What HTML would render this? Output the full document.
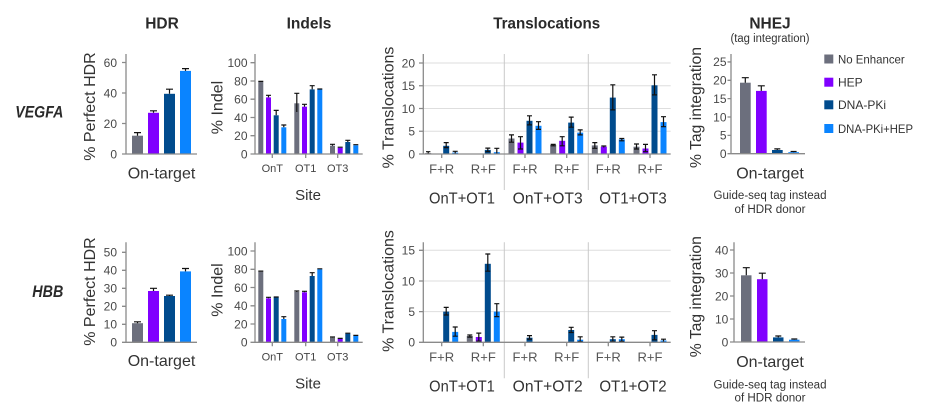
<!DOCTYPE html>
<html><head><meta charset="utf-8">
<style>
html,body{margin:0;padding:0;background:#fff;}
svg{display:block;}
text{font-family:"Liberation Sans",Arial,sans-serif;}
.t{font-size:12px;fill:#484848;text-anchor:end;}
.ax{stroke:#8a8a8a;stroke-width:1.3;fill:none;}
.gr{stroke:#dedede;stroke-width:1;}
.sep{stroke:#c9c9c9;stroke-width:1;}
.e{stroke:#111;stroke-width:1.2;fill:none;}
.G{fill:#6c6f7d}.P{fill:#8000ff}.D{fill:#004b8d}.L{fill:#0a84ff}
.ttl{font-size:15.5px;font-weight:bold;fill:#2a2a2a;text-anchor:middle;}
.yl{font-size:16px;fill:#333;text-anchor:middle;}
.xl{font-size:16px;fill:#333;text-anchor:middle;}
.xt{font-size:11px;fill:#444;text-anchor:middle;}
.ft{font-size:12.5px;fill:#555;text-anchor:middle;}
.gl{font-size:15.5px;fill:#333;text-anchor:middle;}
.sm{font-size:11.5px;fill:#333;text-anchor:middle;}
.lg{font-size:12px;fill:#333;}
</style></head><body>
<svg width="930" height="410" viewBox="0 0 930 410" xmlns="http://www.w3.org/2000/svg">

<!-- Titles -->
<text class="ttl" x="162" y="28.3">HDR</text>
<text class="ttl" x="309" y="28.3">Indels</text>
<text class="ttl" x="546.7" y="28.3" textLength="107" lengthAdjust="spacingAndGlyphs">Translocations</text>
<text class="ttl" x="770" y="28.3">NHEJ</text>
<text class="sm" x="770" y="42" textLength="79" lengthAdjust="spacingAndGlyphs">(tag integration)</text>

<!-- Row labels -->
<text x="15.3" y="117.5" font-size="17" font-weight="bold" font-style="italic" fill="#2a2a2a" textLength="48" lengthAdjust="spacingAndGlyphs">VEGFA</text>
<text x="32.3" y="297" font-size="17" font-weight="bold" font-style="italic" fill="#2a2a2a" textLength="31" lengthAdjust="spacingAndGlyphs">HBB</text>

<!-- ================= TOP HDR ================= -->
<rect class="G" x="132" y="135.7" width="11" height="18.3"/>
<rect class="P" x="148" y="112.8" width="11" height="41.2"/>
<rect class="D" x="164" y="93.8" width="11" height="60.2"/>
<rect class="L" x="180" y="70.9" width="11" height="83.1"/>
<path class="e" d="M137.5 135.7V132.6M134 132.6H141M153.5 112.8V110.8M150 110.8H157M169.5 93.8V89.2M166 89.2H173M185.5 70.9V68.6M182 68.6H189"/>
<path class="ax" d="M126 54V154H197M122 154H126M122 123.5H126M122 93H126M122 62.5H126"/>
<text class="t" x="117" y="158.3">0</text>
<text class="t" x="117" y="127.8">20</text>
<text class="t" x="117" y="97.3">40</text>
<text class="t" x="117" y="66.8">60</text>
<text class="yl" transform="translate(95,106.5) rotate(-90)">% Perfect HDR</text>
<text class="xl" x="161.5" y="178.5">On-target</text>

<!-- ================= BOTTOM HDR ================= -->
<rect class="G" x="132" y="323.2" width="11" height="19.1"/>
<rect class="P" x="148" y="291" width="11" height="51.3"/>
<rect class="D" x="164" y="296" width="11" height="46.3"/>
<rect class="L" x="180" y="271.4" width="11" height="70.9"/>
<path class="e" d="M137.5 323.2V321.8M134 321.8H141M153.5 291V288.3M150 288.3H157M169.5 296V295.2M166 295.2H173M185.5 271.4V268.5M182 268.5H189"/>
<path class="ax" d="M126 242.3V342.3H197M122 342.3H126M122 324.3H126M122 306.3H126M122 288.3H126M122 270.3H126M122 252.3H126"/>
<text class="t" x="117" y="346.6">0</text>
<text class="t" x="117" y="328.6">10</text>
<text class="t" x="117" y="310.6">20</text>
<text class="t" x="117" y="292.6">30</text>
<text class="t" x="117" y="274.6">40</text>
<text class="t" x="117" y="256.6">50</text>
<text class="yl" transform="translate(95,291.5) rotate(-90)">% Perfect HDR</text>
<text class="xl" x="161.5" y="366">On-target</text>

<!-- ================= TOP INDELS ================= -->
<rect class="G" x="258.3" y="82" width="5" height="72"/>
<rect class="P" x="266" y="97.4" width="5" height="56.6"/>
<rect class="D" x="273.7" y="115.3" width="5" height="38.7"/>
<rect class="L" x="281.3" y="127.3" width="5" height="26.7"/>
<rect class="G" x="294.3" y="103.3" width="5" height="50.7"/>
<rect class="P" x="302" y="106.7" width="5" height="47.3"/>
<rect class="D" x="309.7" y="89.4" width="5" height="64.6"/>
<rect class="L" x="317.3" y="89.4" width="5" height="64.6"/>
<rect class="G" x="330" y="145.7" width="5" height="8.3"/>
<rect class="P" x="337.7" y="147.7" width="5" height="6.3"/>
<rect class="D" x="345.3" y="142" width="5" height="12"/>
<rect class="L" x="353.3" y="145.3" width="5" height="8.7"/>
<path class="e" d="M260.8 82V81.4M258.3 81.4H263.3M268.5 97.4V95.3M266 95.3H271M276.2 115.3V110.4M273.7 110.4H278.7M283.8 127.3V125M281.3 125H286.3M296.8 112V93.3M294.3 93.3H299.3M304.5 106.7V104.3M302 104.3H307M312.2 89.4V85.7M309.7 85.7H314.7M319.8 89.4V89M317.3 89H322.3M332.5 145.7V144.3M330 144.3H335M340.2 147.7V147.2M337.7 147.2H342.7M347.8 142V140.3M345.3 140.3H350.3M355.8 145.3V144.7M353.3 144.7H358.3"/>
<path class="ax" d="M255 54V154H362.7M250.5 154H255M250.5 135.7H255M250.5 117.5H255M250.5 99.2H255M250.5 81H255M250.5 62.7H255M272.3 154V158M305.7 154V158M337.7 154V158"/>
<text class="t" x="247.5" y="158.3">0</text>
<text class="t" x="247.5" y="140">20</text>
<text class="t" x="247.5" y="121.8">40</text>
<text class="t" x="247.5" y="103.5">60</text>
<text class="t" x="247.5" y="85.3">80</text>
<text class="t" x="247.5" y="67">100</text>
<text class="xt" x="272.3" y="172">OnT</text>
<text class="xt" x="305.7" y="172">OT1</text>
<text class="xt" x="337.7" y="172">OT3</text>
<text class="yl" transform="translate(222.5,107.5) rotate(-90)">% Indel</text>
<text x="308" y="200" font-size="15" fill="#333" text-anchor="middle">Site</text>

<!-- ================= BOTTOM INDELS ================= -->
<rect class="G" x="258.3" y="271.7" width="5" height="70.6"/>
<rect class="P" x="266" y="298.3" width="5" height="44"/>
<rect class="D" x="273.7" y="297.3" width="5" height="45"/>
<rect class="L" x="281.3" y="319" width="5" height="23.3"/>
<rect class="G" x="294.3" y="292" width="5" height="50.3"/>
<rect class="P" x="302" y="292.3" width="5" height="50"/>
<rect class="D" x="309.7" y="276" width="5" height="66.3"/>
<rect class="L" x="317.3" y="269.3" width="5" height="73"/>
<rect class="G" x="330" y="337.7" width="5" height="4.6"/>
<rect class="P" x="337.7" y="339" width="5" height="3.3"/>
<rect class="D" x="345.3" y="333.6" width="5" height="8.7"/>
<rect class="L" x="353.3" y="336" width="5" height="6.3"/>
<path class="e" d="M260.8 271.7V271.1M258.3 271.1H263.3M268.5 298.3V297.3M266 297.3H271M276.2 297.3V297M273.7 297H278.7M283.8 319V316.7M281.3 316.7H286.3M296.8 292V291M294.3 291H299.3M304.5 292.3V291.3M302 291.3H307M312.2 276V272.7M309.7 272.7H314.7M319.8 269.3V268.8M317.3 268.8H322.3M332.5 337.7V337M330 337H335M340.2 339V338.4M337.7 338.4H342.7M347.8 333.6V333.2M345.3 333.2H350.3M355.8 336V335.4M353.3 335.4H358.3"/>
<path class="ax" d="M255 242.3V342.3H362.7M250.5 342.3H255M250.5 324H255M250.5 305.8H255M250.5 287.5H255M250.5 269.3H255M250.5 251H255M272.3 342.3V346.3M305.7 342.3V346.3M337.7 342.3V346.3"/>
<text class="t" x="247.5" y="346.6">0</text>
<text class="t" x="247.5" y="328.3">20</text>
<text class="t" x="247.5" y="310.1">40</text>
<text class="t" x="247.5" y="291.8">60</text>
<text class="t" x="247.5" y="273.6">80</text>
<text class="t" x="247.5" y="255.3">100</text>
<text class="xt" x="272.3" y="360.3">OnT</text>
<text class="xt" x="305.7" y="360.3">OT1</text>
<text class="xt" x="337.7" y="360.3">OT3</text>
<text class="yl" transform="translate(222.5,290) rotate(-90)">% Indel</text>
<text x="308" y="388.3" font-size="15" fill="#333" text-anchor="middle">Site</text>

<!-- ================= TOP TRANSLOCATIONS ================= -->
<path class="gr" d="M423.3 131.25H670.7M423.3 108.5H670.7M423.3 85.75H670.7M423.3 63H670.7"/>
<path class="sep" d="M504.3 54V190M588.3 54V190"/>
<rect class="G" x="425.2" y="153.1" width="6" height="0.9"/>
<rect class="D" x="443.2" y="145.8" width="6" height="8.2"/>
<rect class="L" x="452.2" y="152.6" width="6" height="1.4"/>
<rect class="D" x="484.8" y="149.9" width="6" height="4.1"/>
<rect class="L" x="493.8" y="152.2" width="6" height="1.8"/>
<rect class="G" x="508.5" y="138.5" width="6" height="15.5"/>
<rect class="P" x="517.5" y="142.6" width="6" height="11.4"/>
<rect class="D" x="526.5" y="120.8" width="6" height="33.2"/>
<rect class="L" x="535.5" y="125.8" width="6" height="28.2"/>
<rect class="G" x="550.2" y="144.9" width="6" height="9.1"/>
<rect class="P" x="559.2" y="140.8" width="6" height="13.2"/>
<rect class="D" x="568.2" y="122.6" width="6" height="31.4"/>
<rect class="L" x="577.2" y="132.6" width="6" height="21.4"/>
<rect class="G" x="591.8" y="145.4" width="6" height="8.6"/>
<rect class="P" x="600.8" y="146.7" width="6" height="7.3"/>
<rect class="D" x="609.8" y="97.6" width="6" height="56.4"/>
<rect class="L" x="618.8" y="139.4" width="6" height="14.6"/>
<rect class="G" x="633.5" y="146.7" width="6" height="7.3"/>
<rect class="P" x="642.5" y="148.5" width="6" height="5.5"/>
<rect class="D" x="651.5" y="85.3" width="6" height="68.7"/>
<rect class="L" x="660.5" y="122.1" width="6" height="31.9"/>
<path class="e" d="
M428.2 154V151.7M426 151.7H430.4
M446.2 142.6V147.6M443.7 142.6H448.7M443.7 147.6H448.7
M455.2 151.3V154M452.7 151.3H457.7
M487.8 148.1V151.7M485.3 148.1H490.3M485.3 151.7H490.3
M496.8 148.3V154M494.3 148.3H499.3
M511.5 134.9V142.2M509 134.9H514M509 142.2H514
M520.5 136.7V149M518 136.7H523M518 149H523
M529.5 115.8V124.9M527 115.8H532M527 124.9H532
M538.5 121.7V129.4M536 121.7H541M536 129.4H541
M553.2 144.4V145.8M550.7 144.4H555.7M550.7 145.8H555.7
M562.2 136.7V145.8M559.7 136.7H564.7M559.7 145.8H564.7
M571.2 117.1V127.2M568.7 117.1H573.7M568.7 127.2H573.7
M580.2 129.9V134.9M577.7 129.9H582.7M577.7 134.9H582.7
M594.8 142.6V148.3M592.3 142.6H597.3M592.3 148.3H597.3
M603.8 146V147.5M601.3 146H606.3
M612.8 84.8V109.9M610.3 84.8H615.3M610.3 109.9H615.3
M621.8 138.5V140.8M619.3 138.5H624.3M619.3 140.8H624.3
M636.5 144V149M634 144H639M634 149H639
M645.5 144.4V151.7M643 144.4H648M643 151.7H648
M654.5 74.8V94.9M652 74.8H657M652 94.9H657
M663.5 116.7V126.7M661 116.7H666M661 126.7H666"/>
<path class="ax" d="M423.3 54V154H670.7M419 154H423.3M419 131.25H423.3M419 108.5H423.3M419 85.75H423.3M419 63H423.3M441.7 154V158M483.3 154V158M525 154V158M566.7 154V158M608.3 154V158M650 154V158"/>
<text class="t" x="415" y="158.3">0</text>
<text class="t" x="415" y="135.5">5</text>
<text class="t" x="415" y="112.8">10</text>
<text class="t" x="415" y="90">15</text>
<text class="t" x="415" y="67.3">20</text>
<text class="ft" x="441.7" y="173.3" textLength="25" lengthAdjust="spacingAndGlyphs">F+R</text>
<text class="ft" x="483.3" y="173.3" textLength="25" lengthAdjust="spacingAndGlyphs">R+F</text>
<text class="ft" x="525" y="173.3" textLength="25" lengthAdjust="spacingAndGlyphs">F+R</text>
<text class="ft" x="566.7" y="173.3" textLength="25" lengthAdjust="spacingAndGlyphs">R+F</text>
<text class="ft" x="608.3" y="173.3" textLength="25" lengthAdjust="spacingAndGlyphs">F+R</text>
<text class="ft" x="650" y="173.3" textLength="25" lengthAdjust="spacingAndGlyphs">R+F</text>
<text class="gl" x="462" y="203.3" textLength="66" lengthAdjust="spacingAndGlyphs">OnT+OT1</text>
<text class="gl" x="547.7" y="203.3" textLength="70" lengthAdjust="spacingAndGlyphs">OnT+OT3</text>
<text class="gl" x="633" y="203.3" textLength="67.4" lengthAdjust="spacingAndGlyphs">OT1+OT3</text>
<text class="yl" transform="translate(393.3,107.5) rotate(-90)" textLength="121.7" lengthAdjust="spacingAndGlyphs">% Translocations</text>

<!-- ================= BOTTOM TRANSLOCATIONS ================= -->
<path class="gr" d="M423.3 311.6H670.7M423.3 281H670.7M423.3 250.3H670.7"/>
<path class="sep" d="M504.3 242.3V378.3M588.3 242.3V378.3"/>
<rect class="D" x="443.2" y="311.6" width="6" height="30.7"/>
<rect class="L" x="452.2" y="331.9" width="6" height="10.4"/>
<rect class="G" x="466.8" y="336" width="6" height="6.3"/>
<rect class="P" x="475.8" y="337" width="6" height="5.3"/>
<rect class="D" x="484.8" y="263.8" width="6" height="78.5"/>
<rect class="L" x="493.8" y="311.6" width="6" height="30.7"/>
<rect class="D" x="526.5" y="337.7" width="6" height="4.6"/>
<rect class="D" x="568.2" y="330" width="6" height="12.3"/>
<rect class="L" x="577.2" y="339.7" width="6" height="2.6"/>
<rect class="D" x="609.8" y="339.2" width="6" height="3.1"/>
<rect class="L" x="618.8" y="339.2" width="6" height="3.1"/>
<rect class="D" x="651.5" y="334.9" width="6" height="7.4"/>
<rect class="L" x="660.5" y="340.5" width="6" height="1.8"/>
<path class="e" d="
M446.2 307.4V315M443.7 307.4H448.7M443.7 315H448.7
M455.2 327V336.2M452.7 327H457.7M452.7 336.2H457.7
M469.8 335V337.1M467.3 335H472.3M467.3 337.1H472.3
M478.8 333.1V341.1M476.3 333.1H481.3M476.3 341.1H481.3
M487.8 254V271.2M485.3 254H490.3M485.3 271.2H490.3
M496.8 303.7V316.6M494.3 303.7H499.3M494.3 316.6H499.3
M529.5 335.6V339.2M527 335.6H532M527 339.2H532
M571.2 327.3V332.5M568.7 327.3H573.7M568.7 332.5H573.7
M580.2 336.8V341.7M577.7 336.8H582.7M577.7 341.7H582.7
M612.8 336.8V341.7M610.3 336.8H615.3M610.3 341.7H615.3
M621.8 337.1V341.4M619.3 337.1H624.3M619.3 341.4H624.3
M654.5 330.7V339.8M652 330.7H657M652 339.8H657
M663.5 339.2V341.7M661 339.2H666"/>
<path class="ax" d="M423.3 242.3V342.3H670.7M419 342.3H423.3M419 311.6H423.3M419 281H423.3M419 250.3H423.3M441.7 342.3V346.3M483.3 342.3V346.3M525 342.3V346.3M566.7 342.3V346.3M608.3 342.3V346.3M650 342.3V346.3"/>
<text class="t" x="415" y="346.6">0</text>
<text class="t" x="415" y="315.9">5</text>
<text class="t" x="415" y="285.3">10</text>
<text class="t" x="415" y="254.6">15</text>
<text class="ft" x="441.7" y="361.6" textLength="25" lengthAdjust="spacingAndGlyphs">F+R</text>
<text class="ft" x="483.3" y="361.6" textLength="25" lengthAdjust="spacingAndGlyphs">R+F</text>
<text class="ft" x="525" y="361.6" textLength="25" lengthAdjust="spacingAndGlyphs">F+R</text>
<text class="ft" x="566.7" y="361.6" textLength="25" lengthAdjust="spacingAndGlyphs">R+F</text>
<text class="ft" x="608.3" y="361.6" textLength="25" lengthAdjust="spacingAndGlyphs">F+R</text>
<text class="ft" x="650" y="361.6" textLength="25" lengthAdjust="spacingAndGlyphs">R+F</text>
<text class="gl" x="462" y="391.3" textLength="65.7" lengthAdjust="spacingAndGlyphs">OnT+OT1</text>
<text class="gl" x="547.7" y="391.3" textLength="70" lengthAdjust="spacingAndGlyphs">OnT+OT2</text>
<text class="gl" x="633" y="391.3" textLength="67.3" lengthAdjust="spacingAndGlyphs">OT1+OT2</text>
<text class="yl" transform="translate(393.3,291) rotate(-90)" textLength="121.7" lengthAdjust="spacingAndGlyphs">% Translocations</text>

<!-- ================= TOP NHEJ ================= -->
<rect class="G" x="740" y="82.7" width="10.7" height="71"/>
<rect class="P" x="756" y="90.9" width="10.7" height="62.8"/>
<rect class="D" x="772" y="150" width="10.7" height="3.7"/>
<rect class="L" x="788.3" y="152.2" width="10.7" height="1.5"/>
<path class="e" d="M745.3 82.7V77.7M741.8 77.7H748.8M761.3 90.9V85.8M757.8 85.8H764.8M777.3 150V148.9M774.3 148.9H780.3M793.6 152.2V151.5M790.6 151.5H796.6"/>
<path class="ax" d="M731 54V153.7H805M727.5 153.7H731M727.5 135.35H731M727.5 117H731M727.5 98.65H731M727.5 80.3H731M727.5 61.95H731"/>
<text class="t" x="726.5" y="158">0</text>
<text class="t" x="726.5" y="139.6">5</text>
<text class="t" x="726.5" y="121.3">10</text>
<text class="t" x="726.5" y="102.9">15</text>
<text class="t" x="726.5" y="84.6">20</text>
<text class="t" x="726.5" y="66.2">25</text>
<text class="yl" transform="translate(701,107.5) rotate(-90)" textLength="121" lengthAdjust="spacingAndGlyphs">% Tag integration</text>
<text class="xl" x="770" y="178.5">On-target</text>
<text class="sm" x="770" y="199" textLength="113" lengthAdjust="spacingAndGlyphs">Guide-seq tag instead</text>
<text class="sm" x="770" y="213" textLength="71" lengthAdjust="spacingAndGlyphs">of HDR donor</text>

<!-- ================= BOTTOM NHEJ ================= -->
<rect class="G" x="741" y="275.3" width="10.5" height="66.7"/>
<rect class="P" x="757" y="279.2" width="10.5" height="62.8"/>
<rect class="D" x="773" y="337.4" width="10.5" height="4.6"/>
<rect class="L" x="789" y="339.7" width="10.5" height="2.3"/>
<path class="e" d="M746.3 275.3V267.7M742.8 267.7H749.8M762.3 279.2V273.2M758.8 273.2H765.8M778.3 337.4V336M775.3 336H781.3M794.3 339.7V339M791.3 339H797.3"/>
<path class="ax" d="M734 242.3V342H805M730 342H734M730 319H734M730 296H734M730 273H734M730 250H734"/>
<text class="t" x="728.3" y="346.3">0</text>
<text class="t" x="728.3" y="323.3">10</text>
<text class="t" x="728.3" y="300.3">20</text>
<text class="t" x="728.3" y="277.3">30</text>
<text class="t" x="728.3" y="254.3">40</text>
<text class="yl" transform="translate(701,296.7) rotate(-90)" textLength="121" lengthAdjust="spacingAndGlyphs">% Tag integration</text>
<text class="xl" x="770" y="367">On-target</text>
<text class="sm" x="770" y="388.3" textLength="113" lengthAdjust="spacingAndGlyphs">Guide-seq tag instead</text>
<text class="sm" x="770" y="401.7" textLength="71" lengthAdjust="spacingAndGlyphs">of HDR donor</text>

<!-- ================= LEGEND ================= -->
<rect class="G" x="824.3" y="54.5" width="9" height="9"/>
<rect class="P" x="824.3" y="77.7" width="9" height="9"/>
<rect class="D" x="824.3" y="100.3" width="9" height="9"/>
<rect class="L" x="824.3" y="124" width="9" height="9"/>
<text class="lg" x="838" y="63.3" textLength="66.7" lengthAdjust="spacingAndGlyphs">No Enhancer</text>
<text class="lg" x="838" y="86.5">HEP</text>
<text class="lg" x="838" y="109.1">DNA-PKi</text>
<text class="lg" x="838" y="132.8" textLength="75" lengthAdjust="spacingAndGlyphs">DNA-PKi+HEP</text>

</svg>
</body></html>
